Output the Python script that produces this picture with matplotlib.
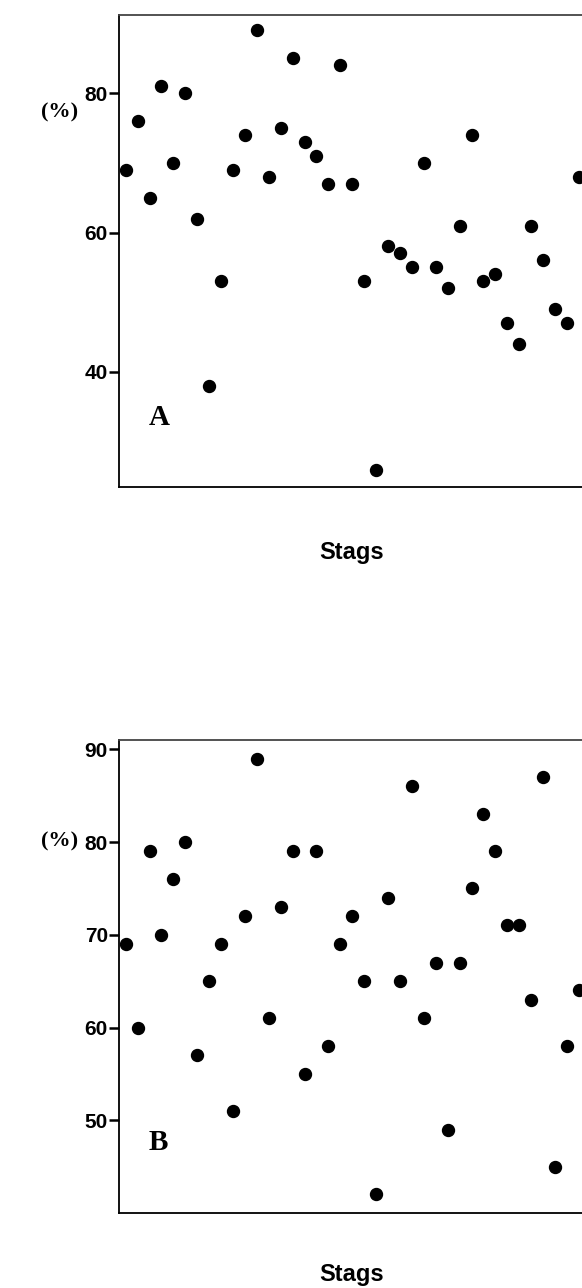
import numpy as np
import matplotlib.pyplot as plt

# Percent values per stag (39 stags each)
stag_index = list(range(1, 40))
values_a = [69, 76, 65, 81, 70, 80, 62, 38, 53, 69, 74, 89, 68, 75, 85, 73, 71, 67, 84, 67,
            53, 26, 58, 57, 55, 70, 55, 52, 61, 74, 53, 54, 47, 44, 61, 56, 49, 47, 68]
values_b = [69, 60, 79, 70, 76, 80, 57, 65, 69, 51, 72, 89, 61, 73, 79, 55, 79, 58, 69, 72,
            65, 42, 74, 65, 86, 61, 67, 49, 67, 75, 83, 79, 71, 71, 63, 87, 45, 58, 64]
ticks_a = [40, 60, 80]
ticks_b = [50, 60, 70, 80, 90]

W, H = 582, 1288
fig = plt.figure(figsize=(W / 100, H / 100), dpi=100)


def px_axes(left, top, right, bottom):
    return fig.add_axes([left / W, 1 - bottom / H, (right - left) / W, (bottom - top) / H])


def draw_panel(ax, values, ticks, ylim, letter, label_y_px, stags_y_px, letter_xy):
    ax.plot(stag_index, values, 'o', color='black', markersize=8.6, linestyle='none')
    ax.set_xlim(0.44, 39.6)
    ax.set_ylim(*ylim)
    ax.set_xticks([])
    ax.set_yticks(ticks)
    ax.set_yticklabels([str(t) for t in ticks], fontsize=15, fontweight='bold',
                       family='Liberation Sans')
    ax.tick_params(axis='y', direction='out', length=7, width=1.8, pad=1)
    for side in ['left', 'bottom', 'top', 'right']:
        ax.spines[side].set_linewidth(1.3)
    ax.spines['top'].set_color('#444444')
    ax.text(letter_xy[0], letter_xy[1], letter, transform=ax.transData,
            fontsize=21, fontweight='bold', family='Liberation Serif',
            ha='left', va='center')
    fig.text(60 / W, 1 - label_y_px / H, '(%)', fontsize=16, fontweight='bold',
             family='Liberation Serif', ha='center', va='center')
    fig.text(352 / W, 1 - stags_y_px / H, 'Stags', fontsize=17, fontweight='bold',
             family='Liberation Sans', ha='center', va='center')


ax_a = px_axes(119, 15, 586, 487)
draw_panel(ax_a, values_a, ticks_a, (23.5, 91.2), 'A', 112, 553, (2.9, 33.5))

ax_b = px_axes(119, 740, 586, 1213)
draw_panel(ax_b, values_b, ticks_b, (40.0, 91.0), 'B', 841, 1274, (2.9, 47.6))

fig.savefig('out.png', dpi=100)
